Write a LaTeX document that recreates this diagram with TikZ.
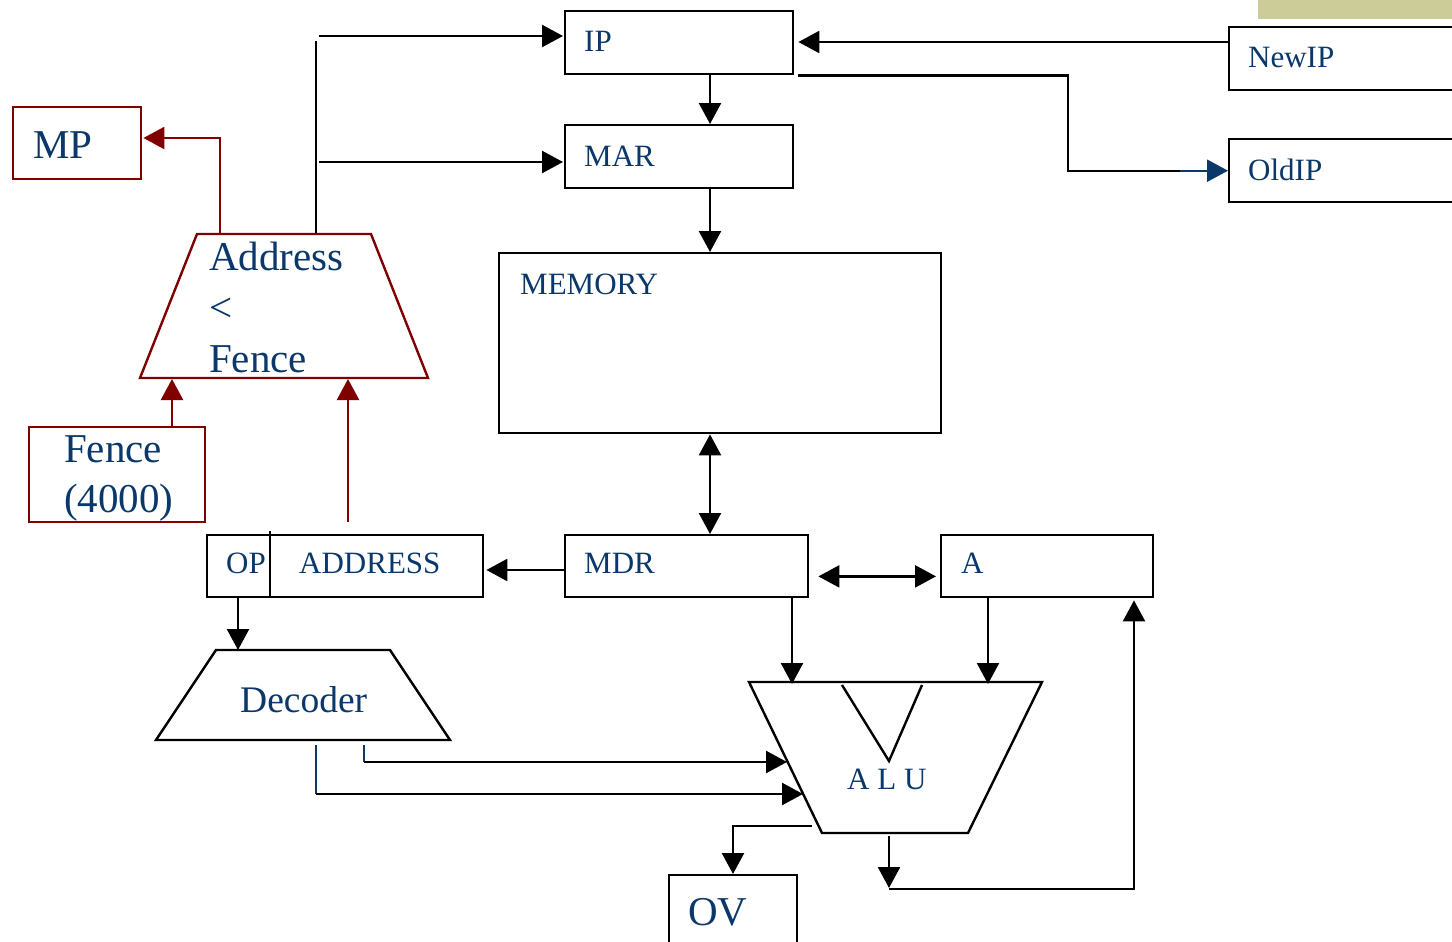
\documentclass[tikz,border=0pt]{standalone}
\usepackage{fontspec}
\setmainfont{Liberation Serif}
\usetikzlibrary{arrows.meta,calc}
\definecolor{tblue}{RGB}{10,56,106}
\definecolor{dred}{RGB}{128,0,0}
\definecolor{tanbar}{RGB}{204,204,153}
\newcommand\fsz[1]{\fontsize{#1}{#1}\selectfont}
\tikzset{
  box/.style={draw=black, line width=2.4pt, inner sep=0pt, anchor=north west},
  rbox/.style={draw=dred, line width=2.4pt, inner sep=0pt, anchor=north west},
  lbl/.style={anchor=base west, text=tblue, inner sep=0pt, font=\fsz{31}},
  biglbl/.style={anchor=base west, text=tblue, inner sep=0pt, font=\fsz{41}},
  bigtip/.tip={Triangle[length=21pt,width=22pt]},
  arr/.style={-bigtip, line width=2.4pt},
  darr/.style={bigtip-bigtip, line width=2.4pt},
  ln/.style={line width=2.4pt},
  rarr/.style={-bigtip, line width=2.4pt, draw=dred},
  rln/.style={line width=2.4pt, draw=dred},
}
\begin{document}
\begin{tikzpicture}[x=1pt,y=-1pt]
\useasboundingbox (0,0) rectangle (1452,942);
\clip (0,0) rectangle (1452,942);
\fill[white] (0,0) rectangle (1452,942);
% tan bar
\fill[tanbar] (1258,0) rectangle (1452,19);

% boxes
\node[box, minimum width=228pt, minimum height=63pt] (ip) at (564,10) {};
\node[box, minimum width=260pt, minimum height=63pt] (newip) at (1228,26) {};
\node[box, minimum width=260pt, minimum height=63pt] (oldip) at (1228,138) {};
\node[box, minimum width=228pt, minimum height=63pt] (mar) at (564,124) {};
\node[box, minimum width=442pt, minimum height=180pt] (mem) at (498,252) {};
\node[box, minimum width=243pt, minimum height=62pt] (mdr) at (564,534) {};
\node[box, minimum width=212pt, minimum height=62pt] (areg) at (940,534) {};
\node[box, minimum width=276pt, minimum height=62pt] (opad) at (206,534) {};
\draw[ln] (270,531) -- (opad.south west -| 270,0);
\node[box, minimum width=128pt, minimum height=100pt] (ov) at (668,874) {};
\node[rbox, minimum width=128pt, minimum height=72pt] (mp) at (12,106) {};
\node[rbox, minimum width=176pt, minimum height=95pt] (fence) at (28,426) {};

% trapezoids
\coordinate (cmptl) at (197,234); \coordinate (cmptr) at (371,234);
\coordinate (cmpbr) at (428,378); \coordinate (cmpbl) at (140,378);
\draw[rln, line join=miter] (cmptl) -- (cmptr) -- (cmpbr) -- (cmpbl) -- cycle;
\coordinate (dectl) at (216,650); \coordinate (dectr) at (390,650);
\coordinate (decbr) at (450,740); \coordinate (decbl) at (156,740);
\draw[ln, line join=miter] (dectl) -- (dectr) -- (decbr) -- (decbl) -- cycle;
\coordinate (alutl) at (749,682); \coordinate (alutr) at (1042,682);
\coordinate (alubr) at (968,833); \coordinate (alubl) at (822,833);
\draw[ln, line join=miter] (alutl) -- (alutr) -- (alubr) -- (alubl) -- cycle;
\draw[ln] (842,685) -- (889,761) -- (922,685);

% texts
\node[lbl] (tipl) at (584,52) {IP};
\node[lbl] (tnewip) at (1248,68) {NewIP};
\node[lbl] (toldip) at (1248,180) {OldIP};
\node[lbl] (tmar) at (584,166) {MAR};
\node[lbl] (tmem) at (520,294) {MEMORY};
\node[lbl] (tmdr) at (584,573) {MDR};
\node[lbl] (ta) at (961,573) {A};
\node[lbl] (top) at (226,573) {OP};
\node[lbl] (taddr) at (299,573) {ADDRESS};
\node[lbl, font=\fsz{37.5}] (tdec) at (240,712) {Decoder};
\node[lbl] (talu) at (847,789) {A L U};
\node[biglbl] (tov) at (688,925) {OV};
\node[biglbl] (tmp) at (33,158) {MP};
\node[biglbl] (tcmp1) at (209,270) {Address};
\node[biglbl] (tcmp2) at (209,321) {<};
\node[biglbl] (tcmp3) at (209,372) {Fence};
\node[biglbl] (tf1) at (64,462) {Fence};
\node[biglbl] (tf2) at (64,512) {(4000)};

% black connectors
\draw[arr] ($(newip.north west)+(0,16)$) -- ($(ip.north east)+(4,32)$);
\coordinate (ipbend) at (oldip.west -| 1068,0);
\draw[ln] ($(ip.south east)+(4,0)$) -| (ipbend) -- ($(oldip.west)+(-48,0)$);
\draw[arr, draw=tblue] ($(oldip.west)+(-48,0)$) -- (oldip.west);
\draw[arr] ($(ip.south west)+(146,0)$) -- ($(mar.north west)+(146,0)$);
\draw[arr] ($(mar.south west)+(146,0)$) -- ($(mem.north west)+(212,0)$);
\draw[darr] ($(mem.south west)+(212,0)$) -- ($(mdr.north west)+(146,0)$);
\draw[darr] ($(mdr.south east)+(9,-22)$) -- ($(areg.south west)+(-4,-22)$);
\draw[arr] ($(mdr.north west)+(0,36)$) -- ($(opad.north east)+(2,36)$);
\draw[arr] ($(opad.south west)+(32,0)$) -- (dectl -| 238,0);
\draw[arr] ($(mdr.south west)+(228,0)$) -- (792,684);
\draw[arr] ($(areg.south west)+(48,0)$) -- (988,684);
% decoder -> ALU
\coordinate (d1a) at (364,745); \coordinate (d1b) at (364,762);
\coordinate (d2a) at (316,745); \coordinate (d2b) at (316,794);
\draw[ln, tblue] (d1a) -- (d1b);
\draw[ln, tblue] (d2a) -- (d2b);
\draw[arr] (d1b) -- (787,762);
\draw[arr] (d2b) -- (803,794);
% ALU -> OV
\coordinate (aluov) at (812,826);
\draw[arr] (aluov) -| (ov.north -| 733,0);
% ALU -> A
\coordinate (aluo) at (889,836); \coordinate (aluo2) at (889,889);
\draw[arr] (aluo) -- (889,888);
\draw[arr] (aluo2) -| ($(areg.south west)+(194,2)$);
% left side black lines
\coordinate (vtop) at (316,41); \coordinate (vbot) at (316,233);
\draw[ln] (vbot) -- (vtop);
\draw[arr] (319,36) -- ($(ip.north west)+(-1,26)$);
\draw[arr] (319,162) -- ($(mar.north west)+(-1,38)$);

% red connectors
\coordinate (cmpo) at (220,234); \coordinate (cmpb) at (220,138);
\draw[rarr] (cmpo) -- (cmpb) -- ($(mp.north east)+(1,32)$);
\draw[rarr] ($(fence.north west)+(144,0)$) -- (172,379);
\coordinate (addrup) at (348,522);
\draw[rarr] (addrup) -- (348,379);
\end{tikzpicture}
\end{document}
